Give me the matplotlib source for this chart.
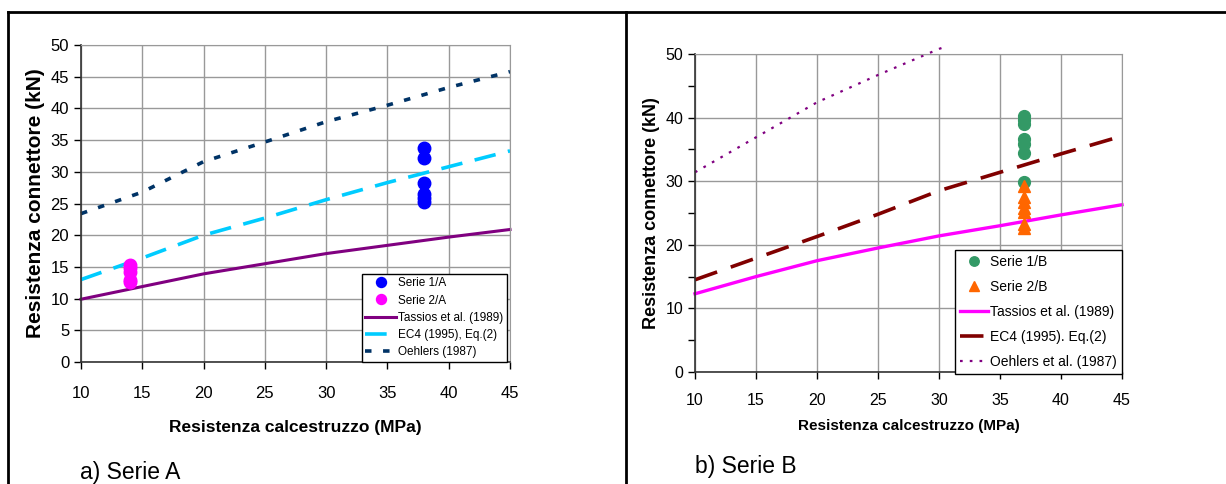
import matplotlib.pyplot as plt
import numpy as np
from matplotlib.lines import Line2D
from matplotlib.ticker import MultipleLocator

plt.rcParams['font.family'] = ['Liberation Sans', 'DejaVu Sans']

# =========================
# Dati - Serie A
# =========================
fc_curve = [10, 15, 20, 25, 30, 35, 40, 45]
tassios_a = [9.9, 11.9, 13.9, 15.5, 17.1, 18.4, 19.7, 20.9]
ec4_a = [13.0, 16.4, 20.0, 22.7, 25.6, 28.3, 30.8, 33.3]
oehlers_a = [23.4, 26.8, 31.6, 34.7, 37.9, 40.5, 43.3, 45.8]

fc_s1a = 38
serie1_a = [33.7, 32.1, 28.3, 26.5, 25.8, 25.3]
fc_s2a = 14
serie2_a = [15.3, 14.8, 14.2, 12.9, 12.6]

# =========================
# Dati - Serie B
# =========================
tassios_b = [12.3, 15.0, 17.5, 19.5, 21.4, 23.0, 24.7, 26.3]
ec4_b = [14.5, 17.9, 21.3, 24.8, 28.5, 31.4, 34.3, 37.1]
fc_oehlers_b = [10, 15, 20, 25, 30, 30.3]
oehlers_b = [31.4, 36.9, 42.4, 46.7, 50.8, 51.0]

fc_b = 37
serie1_b = [40.3, 39.7, 39.0, 36.6, 35.8, 34.4, 29.8]
serie2_b = [29.2, 27.5, 26.7, 25.8, 25.1, 23.3, 22.7]

W, H = 1226, 484
fig = plt.figure(figsize=(W / 100, H / 100), dpi=100)


def px_axes(x0, x1, ytop, ybot):
    return fig.add_axes([x0 / W, 1 - ybot / H, (x1 - x0) / W, (ybot - ytop) / H])


def style_axes(ax, fs):
    ax.set_xlim(10, 45)
    ax.set_ylim(0, 50)
    ax.xaxis.set_major_locator(MultipleLocator(5))
    ax.grid(True, color='#999999', lw=1)
    ax.set_axisbelow(True)
    for s in ['top', 'right']:
        ax.spines[s].set_color('#999999')
    for s in ['left', 'bottom']:
        ax.spines[s].set_color('#333333')
        ax.spines[s].set_linewidth(1.2)
    ax.tick_params(direction='out', length=5, width=1, labelsize=fs)


# =========================
# Pannello a)
# =========================
ax1 = px_axes(81, 510, 45, 362)
style_axes(ax1, 12)
ax1.yaxis.set_major_locator(MultipleLocator(5))
ax1.tick_params(axis='x', pad=12)

ax1.plot([fc_s1a] * len(serie1_a), serie1_a, 'o', color='#0000FF', ms=9,
         label='Serie 1/A', zorder=4)
ax1.plot([fc_s2a] * len(serie2_a), serie2_a, 'o', color='#FF00FF', ms=9,
         label='Serie 2/A', zorder=4)
ax1.plot(fc_curve, tassios_a, '-', color='#800080', lw=2.2,
         label='Tassios et al. (1989)', clip_on=False)
ax1.plot(fc_curve, ec4_a, color='#00CCFF', lw=2.6, dashes=(6, 3.5),
         label='EC4 (1995), Eq.(2)', clip_on=False)
ax1.plot(fc_curve, oehlers_a, color='#003366', lw=2.6, dashes=(1.8, 3.2),
         label='Oehlers (1987)', clip_on=False)

ax1.set_xlabel('Resistenza calcestruzzo (MPa)', fontsize=12.5, fontweight='bold', labelpad=14)
ax1.set_ylabel('Resistenza connettore (kN)', fontsize=15, fontweight='bold', labelpad=4)

leg1 = ax1.legend(loc='lower right', bbox_to_anchor=(507 / W, 1 - 362 / H),
                  bbox_transform=fig.transFigure, borderaxespad=0, fontsize=8.5,
                  frameon=True, fancybox=False, edgecolor='black', framealpha=1,
                  handlelength=2.6, handletextpad=0.2, labelspacing=0.45,
                  borderpad=0.3, markerscale=0.8)
leg1.get_frame().set_linewidth(1)

# =========================
# Pannello b)
# =========================
ax2 = px_axes(695, 1122, 54, 372)
style_axes(ax2, 11.5)
ax2.yaxis.set_major_locator(MultipleLocator(10))
ax2.yaxis.set_minor_locator(MultipleLocator(5))
ax2.tick_params(axis='y', which='minor', direction='out', length=5, width=1)
ax2.tick_params(axis='x', pad=10)

ax2.plot([fc_b] * len(serie1_b), serie1_b, 'o', color='#339966', ms=8.5,
         label='Serie 1/B', zorder=4)
ax2.plot([fc_b] * len(serie2_b), serie2_b, '^', color='#FF6600', ms=8.5,
         label='Serie 2/B', zorder=4)
ax2.plot(fc_curve, tassios_b, '-', color='#FF00FF', lw=2.4,
         label='Tassios et al. (1989)', clip_on=False)
ax2.plot(fc_curve, ec4_b, color='#800000', lw=2.6, dashes=(6.5, 4),
         label='EC4 (1995). Eq.(2)', clip_on=False)
ax2.plot(fc_oehlers_b, oehlers_b, color='#800080', lw=1.6, dashes=(1.2, 3.2),
         label='Oehlers et al. (1987)', clip_on=False)

ax2.set_xlabel('Resistenza calcestruzzo (MPa)', fontsize=11, fontweight='bold', labelpad=8)
ax2.set_ylabel('Resistenza connettore (kN)', fontsize=13, fontweight='bold', labelpad=4)

leg2 = ax2.legend(loc='lower right', bbox_to_anchor=(1122 / W, 1 - 374 / H),
                  bbox_transform=fig.transFigure, borderaxespad=0, fontsize=10,
                  frameon=True, fancybox=False, edgecolor='black', framealpha=1,
                  handlelength=2.0, handletextpad=0.2, labelspacing=0.8,
                  borderpad=0.35, markerscale=0.8)
leg2.get_frame().set_linewidth(1)

# =========================
# Titoli e cornice
# =========================
fig.text(80 / W, 1 - 472 / H, 'a) Serie A', fontsize=16.5, va='center', ha='left')
fig.text(695 / W, 1 - 466 / H, 'b) Serie B', fontsize=16.5, va='center', ha='left')

fig.add_artist(Line2D([8 / W, 1], [1 - 12 / H, 1 - 12 / H], color='black', lw=2,
                      transform=fig.transFigure))
fig.add_artist(Line2D([8 / W, 8 / W], [0, 1 - 12 / H], color='black', lw=2,
                      transform=fig.transFigure))
fig.add_artist(Line2D([626 / W, 626 / W], [0, 1 - 12 / H], color='black', lw=2,
                      transform=fig.transFigure))

fig.savefig('out.png', dpi=100)
plt.close(fig)
